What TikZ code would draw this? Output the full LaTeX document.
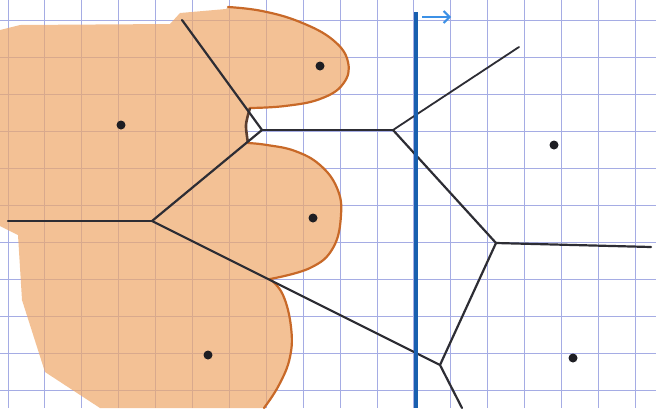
\documentclass[tikz,border=0pt]{standalone}
\usetikzlibrary{arrows.meta}
\definecolor{gridc}{RGB}{165,172,228}
\definecolor{edgec}{RGB}{45,45,52}
\definecolor{fillc}{RGB}{238,168,105}
\definecolor{arcc}{RGB}{200,105,40}
\definecolor{sweepc}{RGB}{25,95,175}
\definecolor{arrowc}{RGB}{60,145,230}
\definecolor{sitec}{RGB}{30,30,35}
\tikzset{
  gridline/.style={gridc, line width=0.9pt},
  vedge/.style={edgec, line width=2.2pt, line cap=round, line join=round},
  arcline/.style={arcc, line width=2.2pt, line cap=round},
  site/.style={circle, fill=sitec, inner sep=0pt, minimum width=9pt, minimum height=8pt},
  sweep/.style={sweepc, line width=3.2pt},
  sweeparrow/.style={arrowc, line width=2pt, -{Straight Barb[length=6pt,width=12pt]}}
}
\begin{document}
\begin{tikzpicture}[x=1pt,y=-1pt]
\useasboundingbox (0,0) rectangle (656,408);
\fill[white] (0,0) rectangle (656,408);
% grid
\foreach \k in {0,...,17} \draw[gridline] ({8+36.9*\k},0) -- ({8+36.9*\k},408);
\foreach \k in {0,...,10} \draw[gridline] (0,{20+37*\k}) -- (656,{20+37*\k});
% shaded region behind the beach line
\fill[fillc, opacity=0.7]
  (0,30) -- (20,25) -- (170,24) -- (180,13) -- (226,9)
  -- plot[smooth, tension=0.7] coordinates {(228,7) (262,11) (300,22) (333,40) (348,62) (343,84) (320,99) (285,106) (250,108)}
  -- plot[smooth] coordinates {(250,108) (246,125) (248,143)}
  -- plot[smooth, tension=0.7] coordinates {(248,143) (267,145) (295,151) (320,165) (337,188) (341,215) (333,248) (310,268) (270,279)}
  -- plot[smooth, tension=0.7] coordinates {(270,279) (283,295) (291,327) (290,357) (279,385) (264,408)}
  -- (100,408) -- (45,372) -- (22,300) -- (18,235) -- (0,226) -- cycle;
% beach line arcs
\draw[arcline] plot[smooth, tension=0.7] coordinates {(228,7) (262,11) (300,22) (333,40) (348,62) (343,84) (320,99) (285,106) (250,108)};
\draw[edgec!70!arcc, line width=2.6pt] plot[smooth] coordinates {(250,108) (246,125) (248,143)};
\draw[arcline] plot[smooth, tension=0.7] coordinates {(248,143) (267,145) (295,151) (320,165) (337,188) (341,215) (333,248) (310,268) (270,279)};
\draw[arcline] plot[smooth, tension=0.7] coordinates {(270,279) (283,295) (291,327) (290,357) (279,385) (264,408)};
% Voronoi vertices and free ends
\coordinate (T1) at (182,20);
\coordinate (V1) at (262,130);
\coordinate (V2) at (152,221);
\coordinate (L1) at (8,221);
\coordinate (V3) at (393,130);
\coordinate (T2) at (519,47);
\coordinate (V4) at (496,243);
\coordinate (R1) at (651,247);
\coordinate (V5) at (440,365);
\coordinate (B1) at (462,408);
% Voronoi edges
\draw[vedge] (T1) -- (V1);
\draw[vedge] (V1) -- (V2);
\draw[vedge] (V2) -- (L1);
\draw[vedge] (V1) -- (V3);
\draw[vedge, line width=1.8pt] (V3) -- (T2);
\draw[vedge] (V3) -- (V4);
\draw[vedge] (V4) -- (R1);
\draw[vedge] (V4) -- (V5);
\draw[vedge] (V5) -- (V2);
\draw[vedge] (V5) -- (B1);
% sweep line
\coordinate (S0) at (416,12);
\coordinate (S1) at (416,408);
\draw[sweep] (S0) -- (S1);
\coordinate (A0) at (422,17);
\coordinate (A1) at (451,17);
\draw[sweeparrow] (A0) -- (A1);
% sites
\node[site] (sA) at (320,66) {};
\node[site] (sB) at (121,125) {};
\node[site] (sC) at (313,218) {};
\node[site] (sD) at (208,355) {};
\node[site] (sE) at (554,145) {};
\node[site] (sF) at (573,358) {};
\end{tikzpicture}
\end{document}
